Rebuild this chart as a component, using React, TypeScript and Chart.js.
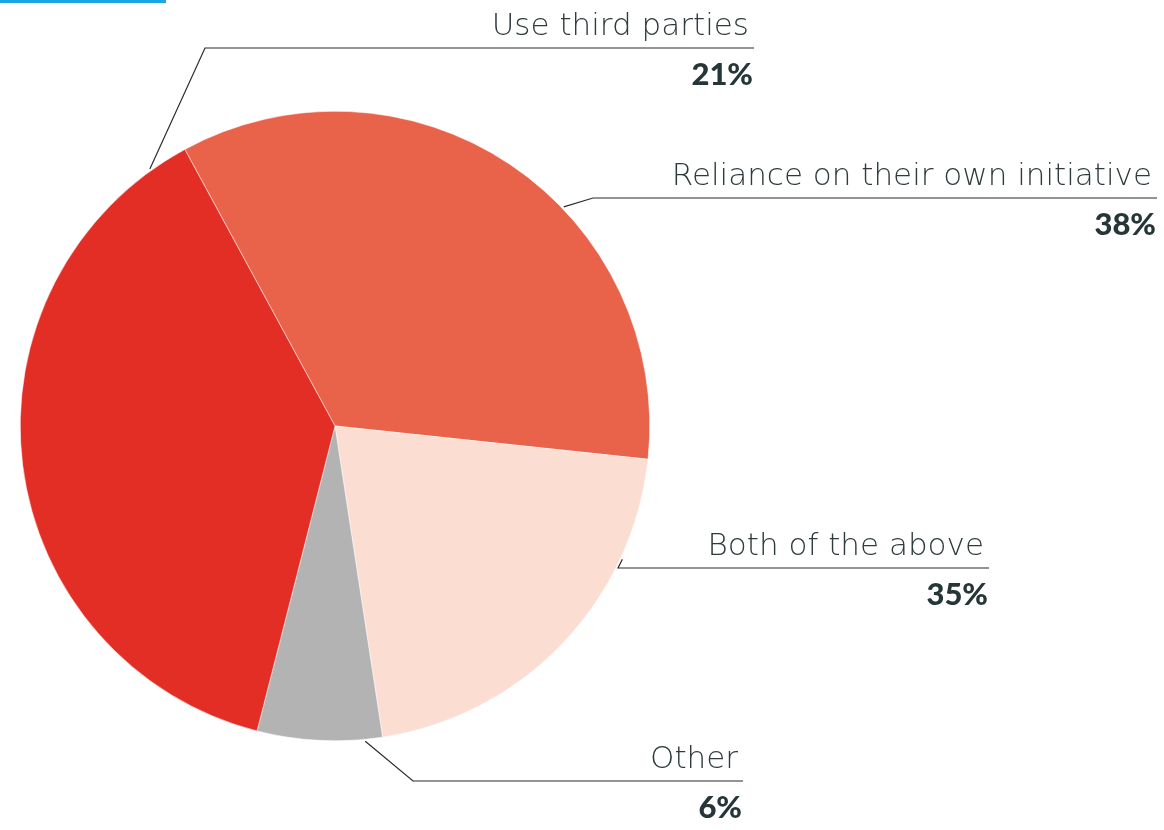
import React, { useEffect, useRef } from "react";
import { Chart, registerables } from "chart.js";

Chart.register(...registerables);

const categories = [
  "Reliance on their own initiative",
  "Both of the above",
  "Other",
  "Use third parties",
];
// slice sizes as drawn in the picture (degrees converted to %)
const sliceValues = [34.6, 20.9, 6.4, 38.1];
// percentages as printed next to each label
const printedPercents = ["38%", "35%", "6%", "21%"];
const sliceColors = ["#E9624A", "#FCDDD2", "#B3B3B3", "#E22E25"];

// label layout (style only): anchor fraction along arc, elbow point, line end x
const labelLayout = [
  { f: 0.6, elbowX: 593, lineY: 198, endX: 1157 },
  { f: 0.25, elbowX: 618, lineY: 568, endX: 989 },
  { f: 0.14, elbowX: 413, lineY: 781, endX: 743 },
  { f: 0.947, elbowX: 205, lineY: 48, endX: 754 },
];

const labelPlugin = {
  id: "leaderLabels",
  afterDraw(chart: any) {
    const ctx = chart.ctx;
    ctx.save();
    ctx.fillStyle = "#1BA5E4";
    ctx.fillRect(0, 0, 166, 3);

    const meta = chart.getDatasetMeta(0);
    meta.data.forEach((arc: any, i: number) => {
      const L = labelLayout[i];
      const a = arc.startAngle + L.f * (arc.endAngle - arc.startAngle);
      const r = arc.outerRadius + 2;
      const ax = arc.x + Math.cos(a) * r;
      const ay = arc.y + Math.sin(a) * r;
      ctx.strokeStyle = "#2b2b2b";
      ctx.lineWidth = 1.2;
      ctx.beginPath();
      ctx.moveTo(ax, ay);
      ctx.lineTo(L.elbowX, L.lineY);
      ctx.lineTo(L.endX, L.lineY);
      ctx.stroke();

      ctx.textAlign = "right";
      ctx.textBaseline = "alphabetic";
      ctx.fillStyle = "#2E3A3C";
      ctx.font = "200 31px 'DejaVu Sans'";
      ctx.fillText(categories[i], L.endX - 5, L.lineY - 13);
      ctx.fillStyle = "#263638";
      ctx.font = "900 31px Lato";
      ctx.fillText(printedPercents[i], L.endX - 1, L.lineY + 37);
    });
    ctx.restore();
  },
};

export default function App() {
  const ref = useRef<HTMLCanvasElement>(null);
  useEffect(() => {
    if (!ref.current) return;
    const chart = new Chart(ref.current, {
      type: "pie",
      data: {
        labels: categories,
        datasets: [
          {
            data: sliceValues,
            backgroundColor: sliceColors,
            borderColor: "#ffffff",
            borderWidth: 0.5,
          },
        ],
      },
      options: {
        responsive: false,
        animation: false,
        rotation: -28.5,
        layout: { padding: { left: 20, right: 514, top: 111, bottom: 89 } },
        plugins: {
          legend: { display: false },
          tooltip: { enabled: false },
        },
      },
      plugins: [labelPlugin],
    });
    return () => chart.destroy();
  }, []);
  return (
    <div style={{ position: "absolute", left: 0, top: 0, width: 1164, height: 830, background: "#fff" }}>
      <canvas ref={ref} width={1164} height={830} />
    </div>
  );
}
